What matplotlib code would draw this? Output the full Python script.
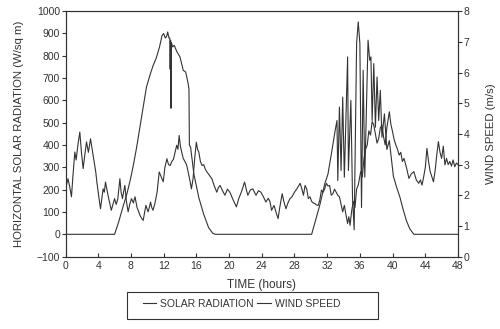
import matplotlib.pyplot as plt
from matplotlib.patches import Rectangle

plt.rcParams['font.family'] = ['Liberation Sans', 'DejaVu Sans']

# Solar radiation (W/sq m) vs time (hours)
solar_t = [0, 6.0, 6.5, 7.0, 7.5, 7.9, 8.3, 8.7, 9.1, 9.5, 9.9, 10.3, 10.7, 11.1, 11.5,
           11.8, 12.0, 12.2, 12.35, 12.5, 12.65, 12.75, 12.8, 12.85, 12.9, 12.95, 13.1,
           13.3, 13.6, 14.0, 14.4, 14.7, 15.0, 15.1, 15.15, 15.3, 15.7, 16.3, 16.9, 17.5,
           18.0, 18.3, 30.1, 31.1, 31.7, 32.1, 32.6, 33.0, 33.2, 33.3, 33.5, 33.7, 33.9,
           34.1, 34.5, 34.6, 34.9, 35.1, 35.3, 35.6, 35.8, 36.0, 36.2, 36.4, 36.6, 37.0,
           37.2, 37.35, 37.5, 37.7, 37.9, 38.1, 38.3, 38.5, 38.7, 39.0, 39.3, 39.6, 40.1,
           40.5, 40.9, 41.3, 41.7, 42.1, 42.6, 48]
solar_v = [0, 0, 55, 120, 180, 240, 310, 390, 480, 570, 660, 710, 755, 790, 840,
           890, 900, 880, 885, 907, 880, 880, 740, 870, 565, 860, 840,
           847, 820, 795, 735, 727, 675, 650, 400, 390, 270, 165, 90, 30,
           5, 0, 0, 131, 226, 270, 380, 470, 510, 241, 570, 286, 615,
           256, 795, 286, 600, 166, 20, 855, 952, 855, 120, 735, 256, 870,
           780, 795, 510, 765, 480, 705, 510, 645, 435, 540, 380, 420, 260,
           210, 166, 110, 60, 25, 0, 0]

# Wind speed (m/s) vs time (hours)
wind_t = [0.0, 0.3, 0.5, 0.73, 0.9, 1.14, 1.3, 1.5, 1.75, 1.95, 2.16, 2.35, 2.57, 2.8, 3.06,
          3.2, 3.38, 3.55, 3.7, 3.85, 3.99, 4.15, 4.28, 4.45, 4.6, 4.75, 4.89, 5.05, 5.2,
          5.4, 5.6, 5.8, 6.0, 6.2, 6.4, 6.65, 6.8, 6.97, 7.1, 7.26, 7.45, 7.66, 7.85, 8.07,
          8.3, 8.5, 8.75, 8.9, 9.1, 9.3, 9.5, 9.65, 9.83, 10.1, 10.25, 10.4, 10.55, 10.7,
          10.9, 11.05, 11.2, 11.46, 11.7, 11.95, 12.15, 12.4, 12.6, 12.8, 13.0, 13.2, 13.4,
          13.6, 13.75, 13.9, 14.05, 14.2, 14.4, 14.6, 14.8, 15.0, 15.2, 15.4, 15.6, 15.8,
          16.0, 16.15, 16.3, 16.5, 16.7, 16.9, 17.1, 17.3, 17.6, 17.9, 18.2, 18.5, 18.7,
          18.9, 19.2, 19.5, 19.8, 20.1, 20.5, 20.9, 21.2, 21.5, 21.9, 22.1, 22.3, 22.6,
          22.9, 23.1, 23.3, 23.6, 23.9, 24.2, 24.5, 24.8, 25.0, 25.2, 25.5, 25.8, 26.0,
          26.2, 26.5, 26.7, 26.96, 27.2, 27.45, 27.7, 28.0, 28.27, 28.5, 28.7, 28.9, 29.1,
          29.3, 29.5, 29.7, 29.9, 30.1, 30.3, 30.5, 30.7, 30.9, 31.1, 31.3, 31.5, 31.7,
          31.9, 32.1, 32.3, 32.5, 32.7, 32.9, 33.1, 33.3, 33.5, 33.7, 33.9, 34.1, 34.3,
          34.5, 34.65, 34.8, 35.0, 35.2, 35.4, 35.6, 35.8, 36.1, 36.3, 36.5, 36.7, 36.9,
          37.1, 37.3, 37.5, 37.7, 37.9, 38.1, 38.3, 38.5, 38.7, 38.9, 39.1, 39.3, 39.6,
          39.8, 40.0, 40.2, 40.4, 40.6, 40.8, 41.0, 41.2, 41.4, 41.7, 42.0, 42.3, 42.6,
          42.9, 43.2, 43.4, 43.6, 43.8, 44.0, 44.2, 44.4, 44.6, 44.8, 45.0, 45.2, 45.4,
          45.6, 45.8, 46.0, 46.2, 46.4, 46.6, 46.8, 47.0, 47.2, 47.4, 47.6, 47.8, 48.0]
wind_v = [2.2, 2.54, 2.3, 1.95, 2.6, 3.41, 3.15, 3.6, 4.06, 3.4, 2.87, 3.3, 3.74, 3.4, 3.84,
          3.6, 3.3, 3.0, 2.76, 2.4, 2.11, 1.8, 1.56, 1.9, 2.21, 2.1, 2.43, 2.2, 2.0,
          1.75, 1.51, 1.7, 1.89, 1.7, 1.89, 2.54, 2.1, 1.89, 2.1, 2.32, 1.8, 1.46, 1.7, 1.89,
          1.75, 1.95, 1.6, 1.5, 1.35, 1.25, 1.18, 1.4, 1.67, 1.46, 1.6, 1.78, 1.6, 1.51,
          1.7, 1.89, 2.1, 2.76, 2.6, 2.44, 2.9, 3.19, 3.0, 2.97, 3.1, 3.17, 3.4,
          3.63, 3.5, 3.95, 3.6, 3.42, 3.2, 3.1, 3.0, 2.76, 2.5, 2.21, 2.54, 3.2,
          3.73, 3.5, 3.41, 3.1, 2.97, 3.0, 2.85, 2.76, 2.65, 2.54, 2.3, 2.1, 2.25,
          2.32, 2.15, 2.0, 2.2, 2.1, 1.85, 1.62, 1.9, 2.1, 2.43, 2.2, 2.0, 2.17,
          2.21, 2.1, 2.0, 2.15, 2.1, 1.95, 1.78, 1.9, 1.8, 1.51, 1.67, 1.4, 1.24,
          1.6, 2.05, 1.8, 1.56, 1.75, 1.89, 1.95, 2.1, 2.2, 2.3, 2.39, 2.21, 2.0,
          2.32, 2.2, 1.89, 1.95, 1.8, 1.75, 1.73, 1.68, 1.67, 1.85, 2.17, 2.1, 2.21,
          2.39, 2.3, 2.32, 2.0, 2.05, 2.2, 2.1, 2.0, 1.95, 1.7, 1.46, 1.67, 1.36,
          1.08, 1.3, 1.02, 1.5, 1.8, 1.6, 2.2, 2.33, 2.77, 2.6, 3.2, 3.5, 3.64,
          4.1, 3.96, 4.4, 4.29, 4.0, 3.7, 3.85, 4.2, 4.29, 3.9, 3.64, 4.2, 4.72,
          4.3, 4.07, 3.8, 3.64, 3.5, 3.31, 3.4, 3.1, 3.2, 2.9, 2.55, 2.7, 2.77,
          2.5, 2.39, 2.5, 2.33, 2.6, 2.9, 3.53, 3.1, 2.77, 2.6, 2.44, 2.8, 3.3,
          3.75, 3.4, 3.2, 3.6, 2.99, 3.2, 3.0, 3.1, 2.95, 3.15, 2.93, 3.05, 3.0]

x_ticks = list(range(0, 49, 4))
left_ticks = list(range(-100, 1001, 100))
right_ticks = list(range(0, 9))

ink = '#333333'

fig = plt.figure(figsize=(5, 3.29), dpi=100)
ax = fig.add_axes([0.131, 0.22, 0.785, 0.746])
ax2 = ax.twinx()

l1, = ax.plot(solar_t, solar_v, color=ink, lw=0.8, label='SOLAR RADIATION')
l2, = ax2.plot(wind_t, wind_v, color=ink, lw=0.8, label='WIND SPEED')

ax.set_xlim(0, 48)
ax.set_ylim(-100, 1000)
ax2.set_ylim(0, 8)
ax.set_xticks(x_ticks)
ax.set_yticks(left_ticks)
ax2.set_yticks(right_ticks)

for a in (ax, ax2):
    for s in a.spines.values():
        s.set_color(ink)
        s.set_linewidth(0.8)
ax.tick_params(axis='x', direction='in', length=3, labelsize=7.5, colors=ink, pad=3)
ax.tick_params(axis='y', direction='out', length=3, labelsize=7.5, colors=ink, pad=1)
ax2.tick_params(axis='y', direction='out', length=3, labelsize=7.5, colors=ink, pad=1)

ax.set_xlabel('TIME (hours)', fontsize=8.5, color=ink, labelpad=6)
ax.set_ylabel('HORIZONTAL SOLAR RADIATION (W/sq m)', fontsize=8.2, color=ink, labelpad=9)
ax2.set_ylabel('WIND SPEED (m/s)', fontsize=8.2, color=ink, labelpad=12)

# legend without its own frame, boxed by a wider rectangle like the original
leg = fig.legend(handles=[l1, l2], loc='center', bbox_to_anchor=(0.483, 0.077), ncol=2,
                 fontsize=7.5, frameon=False, handlelength=1.3,
                 handletextpad=0.4, columnspacing=0.3)
for t in leg.get_texts():
    t.set_color(ink)
fig.patches.append(Rectangle((0.254, 0.03), 0.502, 0.082, transform=fig.transFigure,
                             fill=False, edgecolor=ink, linewidth=0.8))

plt.savefig('out.png', dpi=100)
